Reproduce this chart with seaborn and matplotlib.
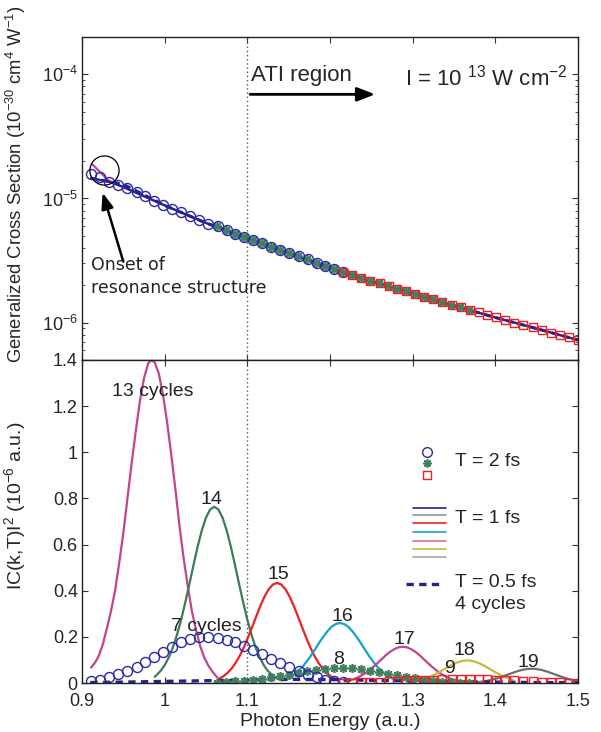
import numpy as np
import pandas as pd
import matplotlib
matplotlib.use("Agg")
import matplotlib.pyplot as plt
from matplotlib.ticker import FixedLocator, FuncFormatter, LogLocator, NullFormatter
import seaborn as sns

sns.set_theme(style="ticks")
plt.rcParams['font.family'] = ['Liberation Sans', 'DejaVu Sans']
plt.rcParams['mathtext.fontset'] = 'custom'
plt.rcParams['mathtext.rm'] = 'Liberation Sans'
plt.rcParams['mathtext.it'] = 'Liberation Sans:italic'

# ---------------- data ----------------
# T = 2 fs, 7 photons (circles)
e_circ = [0.911, 0.922, 0.933, 0.944, 0.955, 0.966, 0.976, 0.987, 0.998, 1.009,
          1.020, 1.031, 1.042, 1.053, 1.064, 1.075, 1.085, 1.096, 1.107, 1.118,
          1.129, 1.140, 1.151, 1.162, 1.173, 1.184, 1.194, 1.205, 1.216]
gcs_circ = [15.8, 15.0, 13.7, 12.9, 12.1, 11.2, 10.4, 9.46, 8.91, 8.22,
            7.73, 7.18, 6.75, 6.27, 5.97, 5.61, 5.18, 4.90, 4.60, 4.34,
            4.08, 3.85, 3.63, 3.43, 3.23, 3.04, 2.86, 2.70, 2.54]
c2_circ = [0.007, 0.015, 0.025, 0.039, 0.054, 0.070, 0.091, 0.112, 0.136, 0.158,
           0.177, 0.191, 0.198, 0.200, 0.197, 0.188, 0.176, 0.161, 0.143, 0.125,
           0.106, 0.088, 0.069, 0.051, 0.036, 0.024, 0.014, 0.008, 0.004]

# T = 2 fs, 8 photons (asterisks)
e_ast = [1.063, 1.074, 1.085, 1.096, 1.107, 1.118, 1.129, 1.140, 1.150, 1.161,
         1.172, 1.183, 1.194, 1.205, 1.216, 1.227, 1.238, 1.248, 1.259, 1.270,
         1.281, 1.292, 1.303, 1.314, 1.325, 1.336, 1.346, 1.357, 1.368]
gcs_ast = [5.97, 5.61, 5.18, 4.90, 4.60, 4.34, 4.08, 3.85, 3.63, 3.43,
           3.23, 3.04, 2.86, 2.70, 2.54, 2.41, 2.29, 2.18, 2.07, 1.97,
           1.88, 1.79, 1.70, 1.62, 1.54, 1.46, 1.39, 1.33, 1.26]
c2_ast = [0.002, 0.004, 0.007, 0.010, 0.014, 0.019, 0.024, 0.030, 0.036, 0.042,
          0.050, 0.056, 0.061, 0.065, 0.067, 0.064, 0.060, 0.054, 0.047, 0.040,
          0.033, 0.026, 0.020, 0.014, 0.010, 0.006, 0.004, 0.002, 0.001]

# T = 2 fs, 9 photons (squares)
e_sq = [1.216, 1.227, 1.238, 1.249, 1.260, 1.271, 1.281, 1.292, 1.303, 1.314,
        1.325, 1.336, 1.347, 1.358, 1.369, 1.380, 1.390, 1.401, 1.412, 1.423,
        1.434, 1.445, 1.456, 1.467, 1.478, 1.489, 1.500]
gcs_sq = [2.54, 2.41, 2.29, 2.18, 2.07, 1.97, 1.88, 1.79, 1.70, 1.62,
          1.54, 1.46, 1.39, 1.33, 1.26, 1.21, 1.15, 1.10, 1.05, 1.00,
          0.957, 0.914, 0.873, 0.832, 0.794, 0.759, 0.724]
c2_sq = [0.001, 0.002, 0.003, 0.004, 0.006, 0.007, 0.009, 0.011, 0.012, 0.014,
         0.015, 0.016, 0.017, 0.018, 0.018, 0.017, 0.016, 0.015, 0.013, 0.011,
         0.009, 0.008, 0.006, 0.004, 0.003, 0.002, 0.002]

# T = 1 fs cross section lines (top panel)
e_line = [0.915, 0.930, 0.950, 1.000, 1.050, 1.100, 1.150, 1.200, 1.250,
          1.300, 1.350, 1.400, 1.450, 1.500]
gcs_line = [14.4, 13.8, 12.4, 8.8, 6.35, 4.80, 3.65, 2.78, 2.16,
            1.72, 1.37, 1.10, 0.895, 0.724]
e_res = [0.912, 0.922, 0.932, 0.950, 1.000, 1.050, 1.100, 1.150, 1.200, 1.250,
         1.300, 1.350, 1.400, 1.450, 1.500]
gcs_res = [19.0, 16.3, 14.0, 12.3, 8.8, 6.35, 4.80, 3.65, 2.78, 2.16,
           1.72, 1.37, 1.10, 0.895, 0.724]

# T = 1 fs spectra (bottom panel), 13..19 cycles
e_13 = [0.911, 0.916, 0.920, 0.925, 0.930, 0.935, 0.940, 0.945, 0.950, 0.955,
        0.960, 0.965, 0.970, 0.975, 0.980, 0.984, 0.988, 0.993, 0.998, 1.003,
        1.008, 1.013, 1.018, 1.023, 1.028, 1.033, 1.038, 1.043, 1.048, 1.053,
        1.058, 1.064]
c2_13 = [0.067, 0.090, 0.115, 0.165, 0.235, 0.310, 0.400, 0.520, 0.650, 0.800,
         0.950, 1.090, 1.220, 1.320, 1.385, 1.400, 1.390, 1.340, 1.250, 1.130,
         0.990, 0.840, 0.680, 0.540, 0.420, 0.310, 0.230, 0.160, 0.110, 0.075,
         0.048, 0.023]
e_14 = [0.988, 0.990, 0.995, 1.000, 1.005, 1.010, 1.015, 1.020, 1.025, 1.030,
        1.035, 1.040, 1.045, 1.050, 1.055, 1.060, 1.065, 1.070, 1.075, 1.080,
        1.085, 1.090, 1.095, 1.100, 1.105, 1.110, 1.115, 1.120, 1.125, 1.130,
        1.135, 1.140]
c2_14 = [0.027, 0.034, 0.052, 0.077, 0.111, 0.155, 0.210, 0.275, 0.350, 0.430,
         0.513, 0.592, 0.662, 0.717, 0.752, 0.764, 0.752, 0.717, 0.662, 0.592,
         0.513, 0.430, 0.350, 0.275, 0.210, 0.155, 0.111, 0.077, 0.052, 0.034,
         0.021, 0.013]
e_15 = [1.066, 1.071, 1.076, 1.081, 1.086, 1.091, 1.096, 1.101, 1.106, 1.111,
        1.116, 1.121, 1.126, 1.131, 1.136, 1.141, 1.146, 1.151, 1.156, 1.161,
        1.166, 1.171, 1.176, 1.181, 1.186, 1.191, 1.196, 1.201, 1.206, 1.211]
c2_15 = [0.019, 0.029, 0.044, 0.063, 0.088, 0.119, 0.156, 0.199, 0.244, 0.291,
         0.336, 0.376, 0.407, 0.427, 0.434, 0.427, 0.407, 0.376, 0.336, 0.291,
         0.244, 0.199, 0.156, 0.119, 0.088, 0.063, 0.044, 0.029, 0.019, 0.012]
e_16 = [1.142, 1.147, 1.152, 1.157, 1.162, 1.167, 1.172, 1.177, 1.182, 1.187,
        1.192, 1.197, 1.202, 1.207, 1.212, 1.217, 1.222, 1.227, 1.232, 1.237,
        1.242, 1.247, 1.252, 1.257, 1.262, 1.267, 1.272, 1.277, 1.282]
c2_16 = [0.011, 0.018, 0.026, 0.038, 0.053, 0.071, 0.094, 0.119, 0.146, 0.175,
         0.201, 0.225, 0.244, 0.256, 0.260, 0.256, 0.244, 0.225, 0.201, 0.175,
         0.146, 0.119, 0.094, 0.071, 0.053, 0.038, 0.026, 0.018, 0.011]
e_17 = [1.218, 1.223, 1.228, 1.233, 1.238, 1.243, 1.248, 1.253, 1.258, 1.263,
        1.268, 1.273, 1.278, 1.283, 1.288, 1.293, 1.298, 1.303, 1.308, 1.313,
        1.318, 1.323, 1.328, 1.333, 1.338, 1.343, 1.348, 1.353, 1.358]
c2_17 = [0.0069, 0.011, 0.016, 0.023, 0.032, 0.043, 0.057, 0.072, 0.088, 0.105,
         0.122, 0.136, 0.147, 0.155, 0.157, 0.155, 0.147, 0.136, 0.122, 0.105,
         0.088, 0.072, 0.057, 0.043, 0.032, 0.023, 0.016, 0.011, 0.0069]
e_18 = [1.296, 1.301, 1.306, 1.311, 1.316, 1.321, 1.326, 1.331, 1.336, 1.341,
        1.346, 1.351, 1.356, 1.361, 1.366, 1.371, 1.376, 1.381, 1.386, 1.391,
        1.396, 1.401, 1.406, 1.411, 1.416, 1.421]
c2_18 = [0.0043, 0.0066, 0.0099, 0.0142, 0.0199, 0.0269, 0.0353, 0.0449, 0.0552, 0.0658,
         0.0759, 0.0849, 0.0919, 0.0965, 0.098, 0.0965, 0.0919, 0.0849, 0.0759, 0.0658,
         0.0552, 0.0449, 0.0353, 0.0269, 0.0199, 0.0142]
e_19 = [1.374, 1.379, 1.384, 1.389, 1.394, 1.399, 1.404, 1.409, 1.414, 1.419,
        1.424, 1.429, 1.434, 1.439, 1.444, 1.449, 1.454, 1.459, 1.464, 1.469,
        1.474, 1.479, 1.484, 1.489, 1.494, 1.499]
c2_19 = [0.0027, 0.0042, 0.0062, 0.009, 0.0126, 0.017, 0.0224, 0.0284, 0.0349, 0.0416,
         0.048, 0.0537, 0.0582, 0.061, 0.062, 0.061, 0.0582, 0.0537, 0.048, 0.0416,
         0.0349, 0.0284, 0.0224, 0.017, 0.0126, 0.009]

# T = 0.5 fs, 4 cycles (dashed)
e_half = [0.91, 0.95, 1.00, 1.05, 1.10, 1.15, 1.20, 1.25, 1.30, 1.35, 1.40, 1.45, 1.50]
c2_half = [0.002, 0.004, 0.007, 0.010, 0.013, 0.016, 0.015, 0.012, 0.009, 0.006,
           0.004, 0.002, 0.001]
gcs_half = [14.6, 13.0, 8.8, 6.35, 4.80, 3.65, 2.78, 2.16, 1.72, 1.37, 1.10, 0.895, 0.724]

x_ticks = [0.9, 1.0, 1.1, 1.2, 1.3, 1.4, 1.5]
y2_ticks = [0, 0.2, 0.4, 0.6, 0.8, 1.0, 1.2, 1.4]

# colours
C_CIRC = '#2a2aa6'
C_AST = '#3f7f5f'
C_SQ = '#ee2222'
C_NAVY = '#23238a'
C13 = '#c2458c'
C14 = '#3d7a55'
C15 = '#ee2020'
C16 = '#12a2cc'
C17 = '#c2458c'
C18 = '#c9b93a'
C19 = '#6e6e6e'

# ---------------- figure ----------------
fig = plt.figure(figsize=(6.01, 7.32), dpi=100)
ax1 = fig.add_axes([0.1364, 0.5082, 0.8253, 0.4413])
ax2 = fig.add_axes([0.1364, 0.0669, 0.8253, 0.4413])

def line(ax, x, y, **kw):
    sns.lineplot(x=x, y=y, ax=ax, estimator=None, sort=False, **kw)

def markers(ax, x, y, marker, color, ms, filled=False, mew=1.0):
    sns.lineplot(x=x, y=y, ax=ax, estimator=None, sort=False, marker=marker,
                 linestyle='none', markersize=ms,
                 markerfacecolor=(color if filled else 'none'),
                 markeredgecolor=color, markeredgewidth=mew, color=color)

DASH = (2.2, 1.6)

# ---- top panel ----
s = 1e-6
line(ax1, e_res, np.array(gcs_res) * s, color=C13, linewidth=1.6)
line(ax1, e_line, np.array(gcs_line) * s, color=C_NAVY, linewidth=1.6)
line(ax1, e_half, np.array(gcs_half) * s, color=C_NAVY, linewidth=2.2, dashes=DASH)
markers(ax1, e_ast, np.array(gcs_ast) * s, (8, 2, 0), C_AST, 6.5, mew=1.2)
markers(ax1, e_circ, np.array(gcs_circ) * s, 'o', C_CIRC, 7.2)
markers(ax1, e_sq, np.array(gcs_sq) * s, 's', C_SQ, 5.8)

ax1.set_yscale('log')
ax1.set_xlim(0.9, 1.5)
ax1.set_ylim(5.0e-7, 2.0e-4)
ax1.axvline(1.1, color='#555555', linestyle=(0, (1, 2)), linewidth=1.0)
ax1.xaxis.set_major_locator(FixedLocator(x_ticks))
ax1.set_xticklabels([])
ax1.yaxis.set_major_locator(LogLocator(base=10, numticks=10))
ax1.yaxis.set_minor_locator(LogLocator(base=10, subs=np.arange(2, 10), numticks=20))
ax1.yaxis.set_minor_formatter(NullFormatter())
ax1.set_xlabel('')
ax1.set_ylabel('Generalized Cross Section (10$^{-30}$ cm$^{4}$ W$^{-1}$)', fontsize=13.3)
ax1.yaxis.set_label_coords(-0.108, 0.545)

ax1.text(1.105, 9.8e-5, 'ATI region', fontsize=16, ha='left', va='center')
ax1.annotate('', xy=(1.258, 6.9e-5), xytext=(1.1, 6.9e-5),
             arrowprops=dict(arrowstyle='-|>,head_length=0.9,head_width=0.35',
                             color='black', lw=2))
ax1.text(1.488, 9.4e-5, 'I = 10 $^{13}$ W cm$^{-2}$', fontsize=16, ha='right', va='center')
ax1.plot([0.9265], [1.70e-5], marker='o', markersize=21, markerfacecolor='none',
         markeredgecolor='black', markeredgewidth=0.9)
ax1.annotate('', xy=(0.924, 1.17e-5), xytext=(0.951, 2.95e-6),
             arrowprops=dict(arrowstyle='-|>,head_length=0.8,head_width=0.3',
                             color='black', lw=1.8))
ax1.text(0.911, 2.35e-6, 'Onset of\nresonance structure', fontsize=12.5,
         family='DejaVu Sans', ha='left', va='center', linespacing=1.3,
         color='#222222')

# ---- bottom panel ----
for ex, cy, col in [(e_13, c2_13, C13), (e_14, c2_14, C14), (e_15, c2_15, C15),
                    (e_16, c2_16, C16), (e_17, c2_17, C17), (e_18, c2_18, C18),
                    (e_19, c2_19, C19)]:
    line(ax2, ex, cy, color=col, linewidth=1.6)
line(ax2, e_half, c2_half, color=C_NAVY, linewidth=2.4, dashes=DASH)
markers(ax2, e_ast, c2_ast, (8, 2, 0), C_AST, 6.5, mew=1.2)
markers(ax2, e_circ, c2_circ, 'o', C_CIRC, 7.2)
markers(ax2, e_sq, c2_sq, 's', C_SQ, 5.8)

ax2.set_xlim(0.9, 1.5)
ax2.set_ylim(0, 1.4)
ax2.axvline(1.1, color='#555555', linestyle=(0, (1, 2)), linewidth=1.0)
ax2.xaxis.set_major_locator(FixedLocator(x_ticks))
ax2.yaxis.set_major_locator(FixedLocator(y2_ticks))
fmt = FuncFormatter(lambda v, p: f'{v:g}')
ax2.xaxis.set_major_formatter(fmt)
ax2.yaxis.set_major_formatter(fmt)
ax2.set_xlabel('Photon Energy (a.u.)', fontsize=14, labelpad=2)
ax2.set_ylabel('IC(k,T)I$^{2}$ (10$^{-6}$ a.u.)', fontsize=14)
ax2.yaxis.set_label_coords(-0.108, 0.55)

for txt, xx, yy in [('13 cycles', 0.986, 1.265), ('14', 1.056, 0.796), ('15', 1.137, 0.47),
                    ('16', 1.215, 0.287), ('7 cycles', 1.051, 0.243), ('8', 1.210, 0.104),
                    ('17', 1.290, 0.187), ('18', 1.363, 0.139), ('9', 1.344, 0.061),
                    ('19', 1.440, 0.091)]:
    ax2.text(xx, yy, txt, fontsize=14, ha='center', va='center', color='#222222')

# manual legend
T = ax2.transAxes
ax2.plot([0.696], [0.714], 'o', transform=T, markersize=7, markerfacecolor='none',
         markeredgecolor=C_CIRC, markeredgewidth=1.0, clip_on=False)
ax2.plot([0.696], [0.680], marker=(8, 2, 0), transform=T, markersize=6,
         color=C_AST, markeredgewidth=1.2, linestyle='none', clip_on=False)
ax2.plot([0.696], [0.643], 's', transform=T, markersize=5.8, markerfacecolor='none',
         markeredgecolor=C_SQ, markeredgewidth=1.0, clip_on=False)
ax2.text(0.752, 0.686, 'T = 2 fs', transform=T, fontsize=14, ha='left', va='center')
leg_cols = ['#232380', '#7ea08c', '#ee2222', '#12a8d0', '#d070a0', '#c9b940', '#a8a8a8']
leg_y = [0.543, 0.519, 0.494, 0.466, 0.441, 0.416, 0.391]
for cc, yy in zip(leg_cols, leg_y):
    ax2.plot([0.667, 0.733], [yy, yy], color=cc, linewidth=1.2, transform=T)
ax2.text(0.752, 0.509, 'T = 1 fs', transform=T, fontsize=14, ha='left', va='center')
ax2.plot([0.653, 0.730], [0.307, 0.307], color=C_NAVY, linewidth=2.4, dashes=DASH,
         transform=T)
ax2.text(0.752, 0.311, 'T = 0.5 fs', transform=T, fontsize=14, ha='left', va='center')
ax2.text(0.752, 0.242, '4 cycles', transform=T, fontsize=14, ha='left', va='center')

for ax in (ax1, ax2):
    ax.tick_params(which='both', direction='in', top=True, right=True, labelsize=13,
                   color='#333333', pad=3)
    ax.tick_params(which='major', length=4.5, width=0.8)
    ax.tick_params(which='minor', length=2.5, width=0.6)
    for sp in ax.spines.values():
        sp.set_color('#222222')
        sp.set_linewidth(1.0)
    ax.set_facecolor('white')
ax2.tick_params(axis='x', pad=7)

fig.savefig('out.png', dpi=100, facecolor='white')
